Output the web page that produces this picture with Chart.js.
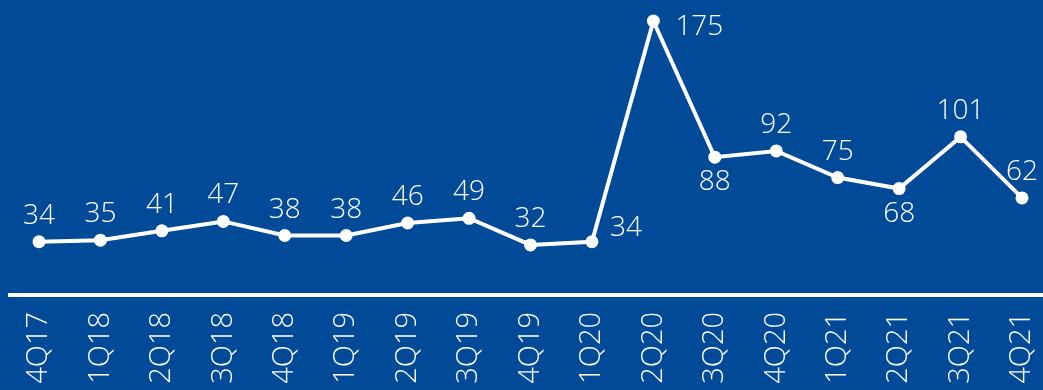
<!DOCTYPE html>
<html>
<head>
<meta charset="utf-8">
<script src="https://cdn.jsdelivr.net/npm/chart.js@4"></script>
<style>
  html, body { margin: 0; padding: 0; background: #004A98; }
  #wrap { width: 1043px; height: 390px; }
</style>
</head>
<body>
<div id="wrap"><canvas id="trendChart"></canvas></div>
<script>
const quarters = ["4Q17", "1Q18", "2Q18", "3Q18", "4Q18", "1Q19", "2Q19", "3Q19", "4Q19",
                  "1Q20", "2Q20", "3Q20", "4Q20", "1Q21", "2Q21", "3Q21", "4Q21"];
const values = [34, 35, 41, 47, 38, 38, 46, 49, 32, 34, 175, 88, 92, 75, 68, 101, 62];
// where each value label sits relative to its point
const labelPos = ["top", "top", "top", "top", "top", "top", "top", "top", "top",
                  "upright", "right", "bottom", "top", "top", "bottom", "top", "top"];

const FONT = "'Open Sans', sans-serif";

// value labels next to the points
const valueLabels = {
    id: "valueLabels",
    afterDatasetsDraw(chart) {
        const ctx = chart.ctx;
        const meta = chart.getDatasetMeta(0);
        ctx.save();
        ctx.fillStyle = "#ffffff";
        ctx.font = "300 28px " + FONT;
        meta.data.forEach(function(pt, i) {
            const txt = String(values[i]);
            const pos = labelPos[i];
            if (pos === "top") {
                ctx.textAlign = "center"; ctx.textBaseline = "alphabetic";
                ctx.fillText(txt, pt.x, pt.y - 18);
            } else if (pos === "bottom") {
                ctx.textAlign = "center"; ctx.textBaseline = "top";
                ctx.fillText(txt, pt.x, pt.y + 11);
            } else if (pos === "right") {
                ctx.textAlign = "left"; ctx.textBaseline = "middle";
                ctx.fillText(txt, pt.x + 22, pt.y + 6);
            } else {
                ctx.textAlign = "left"; ctx.textBaseline = "middle";
                ctx.fillText(txt, pt.x + 18, pt.y - 14);
            }
        });
        ctx.restore();
    }
};

// white baseline under the plot, running wider than the plot area
const baseLine = {
    id: "baseLine",
    beforeDatasetsDraw(chart) {
        const ctx = chart.ctx;
        const y = chart.scales.y.getPixelForValue(0);
        ctx.save();
        ctx.strokeStyle = "#ffffff";
        ctx.lineWidth = 4;
        ctx.beginPath();
        ctx.moveTo(8, y);
        ctx.lineTo(chart.width, y);
        ctx.stroke();
        ctx.restore();
    }
};

const ctx = document.getElementById("trendChart").getContext("2d");

new Chart(ctx, {
    type: "line",
    data: {
        labels: quarters,
        datasets: [{
            data: values,
            borderColor: "#ffffff",
            borderWidth: 4,
            pointBackgroundColor: "#ffffff",
            pointBorderWidth: 0,
            pointRadius: 6.5,
            tension: 0,
            clip: false
        }]
    },
    options: {
        responsive: true,
        maintainAspectRatio: false,
        animation: false,
        layout: { padding: { left: 39, right: 21, top: 21, bottom: 0 } },
        plugins: {
            legend: { display: false },
            tooltip: { enabled: false }
        },
        scales: {
            x: {
                offset: false,
                grid: { display: false, drawTicks: false },
                border: { display: false },
                ticks: {
                    color: "#ffffff",
                    font: { family: FONT, size: 29, weight: "300" },
                    autoSkip: false,
                    minRotation: 90,
                    maxRotation: 90,
                    padding: 17
                },
                afterFit(scale) {
                    scale.height = 95;
                    scale.paddingLeft = 0;
                    scale.paddingRight = 0;
                }
            },
            y: {
                display: false,
                min: 0,
                max: 175
            }
        }
    },
    plugins: [baseLine, valueLabels]
});
</script>
</body>
</html>
